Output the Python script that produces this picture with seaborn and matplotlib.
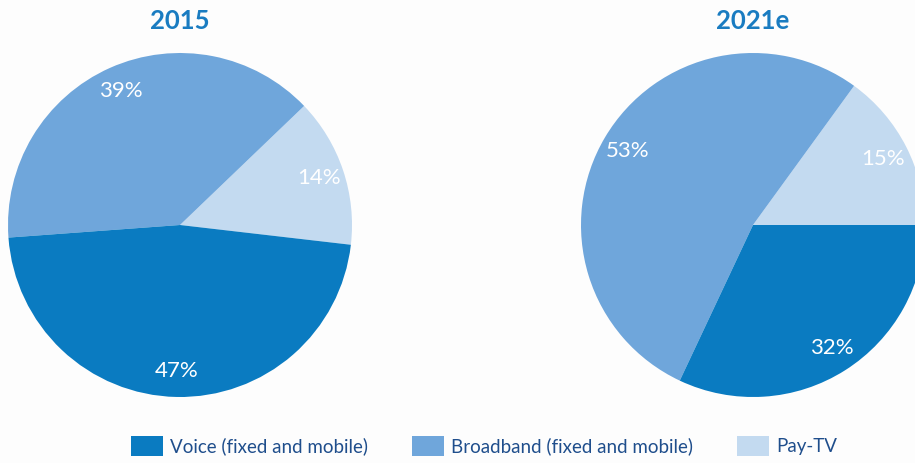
import matplotlib
matplotlib.use("Agg")
import matplotlib.pyplot as plt
import seaborn as sns
from matplotlib.patches import Patch

sns.set_theme(style="white")
plt.rcParams['font.family'] = ['Lato', 'DejaVu Sans']

# Data
categories = ["Voice (fixed and mobile)", "Broadband (fixed and mobile)", "Pay-TV"]
years = ["2015", "2021e"]
share_2015 = [47, 39, 14]
share_2021 = [32, 53, 15]
start_angles = [-6.6, 0.0]

colors = {"Voice (fixed and mobile)": "#0A7BC1",
          "Broadband (fixed and mobile)": "#6FA6DB",
          "Pay-TV": "#C3DAF0"}

W, H = 915, 463
fig = plt.figure(figsize=(W / 100, H / 100), dpi=100)
fig.patch.set_facecolor("#FDFDFD")

R = 172
centers = [(180, 225), (753, 225)]
shares = [share_2015, share_2021]

# counterclockwise draw order: Pay-TV, Broadband, Voice
draw_order = [2, 1, 0]
for (cx, cy), vals, year, sa in zip(centers, shares, years, start_angles):
    ax = fig.add_axes([(cx - R) / W, (H - cy - R) / H, 2 * R / W, 2 * R / H])
    v = [vals[i] for i in draw_order]
    c = [colors[categories[i]] for i in draw_order]
    wedges, texts, autotexts = ax.pie(
        v, colors=c, startangle=sa, counterclock=True,
        autopct=lambda p: f"{p:.0f}%", pctdistance=0.85,
        wedgeprops=dict(linewidth=0),
        textprops=dict(color="white", fontsize=16))
    ax.set_xlim(-1, 1)
    ax.set_ylim(-1, 1)
    ax.set_aspect("equal")
    ax.axis("off")
    fig.text(cx / W, 1 - 21 / H, year, ha="center", va="center",
             fontsize=18.5, fontweight="bold", color="#1A7CC1")

handles = [Patch(facecolor=colors[k], edgecolor="none", label=k) for k in categories]
fs = 13.5
px = fs * 100 / 72
leg = fig.legend(handles=handles, loc="center left", bbox_to_anchor=(131 / W, 1 - 446 / H),
                 ncol=3, frameon=False, fontsize=fs, handlelength=32 / px,
                 handleheight=24 / px, handletextpad=7 / px, columnspacing=44 / px,
                 borderpad=0, borderaxespad=0,
                 labelcolor="#1F4E8C")

fig.savefig("out.png", dpi=100, facecolor=fig.get_facecolor())
